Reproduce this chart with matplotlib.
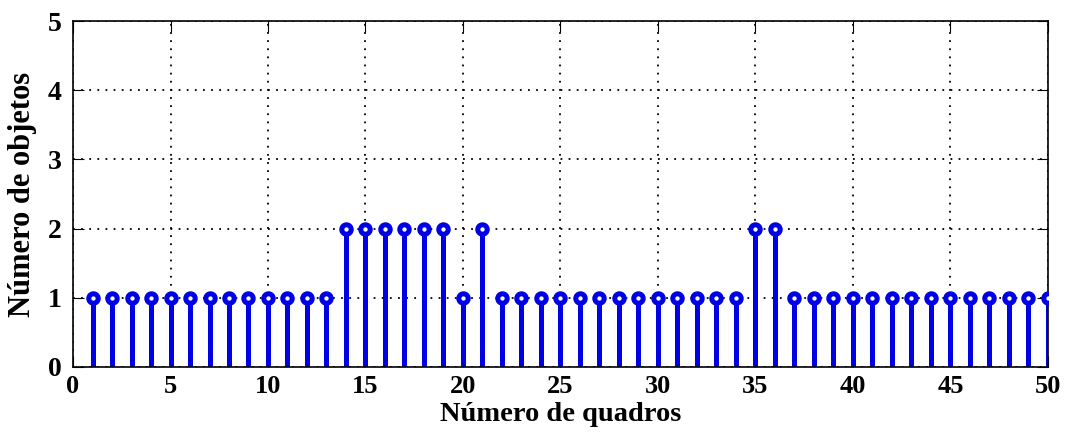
import matplotlib
matplotlib.use("Agg")
import matplotlib.pyplot as plt
import numpy as np

frames = list(range(1, 51))
objects = [1]*13 + [2]*6 + [1, 2] + [1]*13 + [2, 2] + [1]*14
xticks = [0, 5, 10, 15, 20, 25, 30, 35, 40, 45, 50]
yticks = [0, 1, 2, 3, 4, 5]

plt.rcParams['font.family'] = ['Liberation Serif', 'DejaVu Serif']
plt.rcParams['font.weight'] = 'bold'

fig = plt.figure(figsize=(10.69, 4.41), dpi=100)
ax = fig.add_axes([0.0683, 0.168, 0.912, 0.784])
blue = '#0000e6'
ml, sl, bl = ax.stem(frames, objects, basefmt=' ')
plt.setp(sl, color=blue, linewidth=3.6)
plt.setp(ml, color=blue, marker='o', markersize=6.8, markerfacecolor='white',
         markeredgecolor=blue, markeredgewidth=3.6, zorder=4)
ax.set_xlim(0, 50)
ax.set_ylim(0, 5)
ax.set_xticks(xticks)
ax.set_yticks(yticks)
ax.grid(True, linestyle=(0, (1, 3.5)), color='black', linewidth=1.3)
ax.set_axisbelow(True)
ax.tick_params(direction='in', length=8, labelsize=20, top=True, right=True)
ax.tick_params(axis='x', pad=6, labelsize=19)
ax.tick_params(axis='y', pad=8)
for lab in ax.get_xticklabels() + ax.get_yticklabels():
    lab.set_fontweight('bold')
for s in ax.spines.values():
    s.set_linewidth(1.2)
ax.set_xlabel('Número de quadros', fontsize=20.5, fontweight='bold', labelpad=3)
ax.set_ylabel('Número de objetos', fontsize=22, fontweight='bold', labelpad=8)
fig.savefig('out.png', dpi=100)
